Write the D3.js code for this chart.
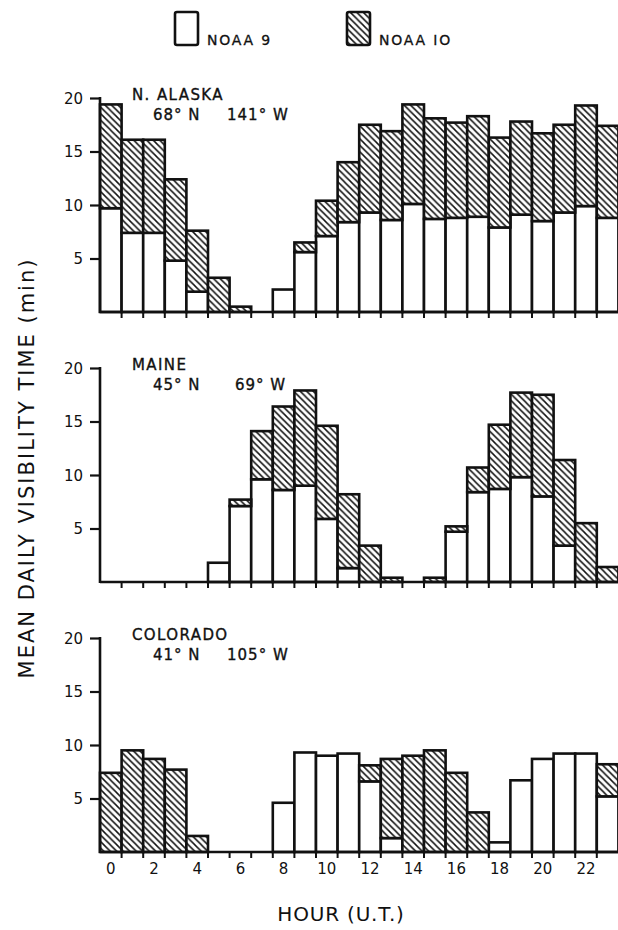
<!DOCTYPE html>
<html>
<head>
<meta charset="utf-8">
<script src="https://cdn.jsdelivr.net/npm/d3@7"></script>
<style>
  html, body { margin: 0; padding: 0; background: #fff; }
  svg { display: block; }
  text { font-family: "DejaVu Sans", sans-serif; fill: #111; }
</style>
</head>
<body>
<svg id="chart" width="618" height="930"></svg>
<script>
// ---- data ----
const hours = [0,1,2,3,4,5,6,7,8,9,10,11,12,13,14,15,16,17,18,19,20,21,22,23];
const hourTickLabels = ["0","2","4","6","8","10","12","14","16","18","20","22"];
const yTickValues = [5, 10, 15, 20];
const seriesNames = ["NOAA 9", "NOAA 10"];

const sites = ["N. ALASKA", "MAINE", "COLORADO"];
const siteLat = ["68° N", "45° N", "41° N"];
const siteLon = ["141° W", "69° W", "105° W"];

const alaskaNoaa9  = [9.7,7.4,7.4,4.8,1.9,0,0,0,2.1,5.6,7.1,8.4,9.3,8.6,10.1,8.7,8.8,8.9,7.9,9.1,8.5,9.3,9.9,8.8];
const alaskaNoaa10 = [9.7,8.7,8.7,7.6,5.7,3.2,0.5,0,0,0.9,3.3,5.6,8.2,8.3,9.3,9.4,8.9,9.4,8.4,8.7,8.2,8.2,9.4,8.6];

const maineNoaa9  = [0,0,0,0,0,1.8,7.1,9.6,8.6,9.0,5.9,1.3,0,0,0,0,4.7,8.4,8.7,9.8,8.0,3.4,0,0];
const maineNoaa10 = [0,0,0,0,0,0,0.6,4.5,7.8,8.9,8.7,6.9,3.4,0.4,0,0.4,0.5,2.3,6.0,7.9,9.5,8.0,5.5,1.4];

const coloradoNoaa9  = [0,0,0,0,0,0,0,0,4.6,9.3,9.0,9.2,6.6,1.3,0,0,0,0,0.9,6.7,8.7,9.2,9.2,5.2];
const coloradoNoaa10 = [7.4,9.5,8.7,7.7,1.5,0,0,0,0,0,0,0,1.5,7.4,9.0,9.5,7.4,3.7,0,0,0,0,0,3.0];

const panelNoaa9  = [alaskaNoaa9, maineNoaa9, coloradoNoaa9];
const panelNoaa10 = [alaskaNoaa10, maineNoaa10, coloradoNoaa10];

// ---- layout ----
const svg = d3.select("#chart");
const left = 100, right = 618.4;
const panelTops = [98, 368, 638];
const panelH = 214;
const SW = 2.6;

const defs = svg.append("defs");
const pat = defs.append("pattern")
  .attr("id", "hatch").attr("patternUnits", "userSpaceOnUse")
  .attr("width", 6.5).attr("height", 6.5);
pat.append("rect").attr("width", 6.5).attr("height", 6.5).attr("fill", "#fff");
pat.append("path")
  .attr("d", "M0,0 L6.5,6.5 M-1,5.5 L1,7.5 M5.5,-1 L7.5,1")
  .attr("stroke", "#111").attr("stroke-width", 1.5);

const x = d3.scaleBand().domain(hours).range([left, right]).padding(0);

const stack = d3.stack().keys(seriesNames);

sites.forEach((site, p) => {
  const top = panelTops[p];
  const y = d3.scaleLinear().domain([0, 20]).range([top + panelH, top]);
  const g = svg.append("g");

  const rows = hours.map((h, i) => ({ hour: h, "NOAA 9": panelNoaa9[p][i], "NOAA 10": panelNoaa10[p][i] }));
  const stacked = stack(rows);

  stacked.forEach((layer, k) => {
    g.append("g").selectAll("rect")
      .data(layer.filter(d => d[1] - d[0] > 0))
      .join("rect")
      .attr("x", d => x(d.data.hour))
      .attr("width", x.bandwidth())
      .attr("y", d => y(d[1]))
      .attr("height", d => y(d[0]) - y(d[1]))
      .attr("fill", k === 0 ? "#fff" : "url(#hatch)")
      .attr("stroke", "#111")
      .attr("stroke-width", SW)
      .attr("stroke-linejoin", "miter");
  });

  // y axis
  const yAxis = d3.axisLeft(y).tickValues(yTickValues).tickSize(10).tickPadding(7)
    .tickFormat(d3.format("d"));
  const ya = g.append("g").attr("transform", `translate(${left},0)`).call(yAxis);
  ya.select(".domain").remove();
  ya.selectAll(".tick line").attr("stroke", "#111").attr("stroke-width", 2.2);
  ya.selectAll(".tick text").style("font-size", "15px").attr("fill", "#111")
    .style("font-family", "DejaVu Sans, sans-serif").attr("dy", "0.36em");
  g.append("line").attr("x1", left).attr("x2", left)
    .attr("y1", y(20) - 1).attr("y2", y(0) + 1)
    .attr("stroke", "#111").attr("stroke-width", SW);

  // x axis baseline with ticks at bar boundaries
  const xa = g.append("g").attr("transform", `translate(0,${y(0)})`);
  xa.append("line").attr("x1", left).attr("x2", 620).attr("y1", 0).attr("y2", 0)
    .attr("stroke", "#111").attr("stroke-width", SW);
  xa.selectAll("line.tk").data(hours.slice(1)).join("line").attr("class", "tk")
    .attr("x1", d => x(d)).attr("x2", d => x(d))
    .attr("y1", 0).attr("y2", 6)
    .attr("stroke", "#111").attr("stroke-width", 2);

  if (p === 2) {
    xa.selectAll("text").data(hourTickLabels).join("text")
      .attr("x", d => x(+d) + x.bandwidth() / 2)
      .attr("y", 22)
      .attr("text-anchor", "middle")
      .style("font-size", "15px")
      .text(d => d);
  }

  // panel labels
  g.append("text").attr("x", 132).attr("y", top + 2)
    .style("font-size", "15px").style("font-weight", "500").style("letter-spacing", "1.4px")
    .style("stroke", "#111").style("stroke-width", "0.35px").text(site);
  g.append("text").attr("x", 153).attr("y", top + 22)
    .style("font-size", "15px").style("letter-spacing", "1px")
    .style("stroke", "#111").style("stroke-width", "0.35px").text(siteLat[p]);
  g.append("text").attr("x", p === 1 ? 235 : 227).attr("y", top + 22)
    .style("font-size", "15px").style("letter-spacing", "1px")
    .style("stroke", "#111").style("stroke-width", "0.35px").text(siteLon[p]);
});

// legend
const legend = svg.append("g");
const legendX = [175, 347];
seriesNames.forEach((s, i) => {
  legend.append("rect").attr("x", legendX[i]).attr("y", 12).attr("width", 23).attr("height", 33)
    .attr("rx", 2).attr("fill", i === 0 ? "#fff" : "url(#hatch)")
    .attr("stroke", "#111").attr("stroke-width", SW);
  legend.append("text").attr("x", legendX[i] + 32).attr("y", 45)
    .style("font-size", "14px").style("letter-spacing", "1.8px")
    .style("stroke", "#111").style("stroke-width", "0.3px").text(s.replace("10", "IO"));
});

// axis titles
svg.append("text")
  .attr("transform", "translate(34,468) rotate(-90)")
  .attr("text-anchor", "middle")
  .style("font-size", "21px").style("letter-spacing", "2px")
  .text("MEAN DAILY VISIBILITY TIME (min)");

svg.append("text")
  .attr("x", 341).attr("y", 921)
  .attr("text-anchor", "middle")
  .style("font-size", "20px").style("letter-spacing", "0.8px")
  .text("HOUR (U.T.)");
</script>
</body>
</html>
